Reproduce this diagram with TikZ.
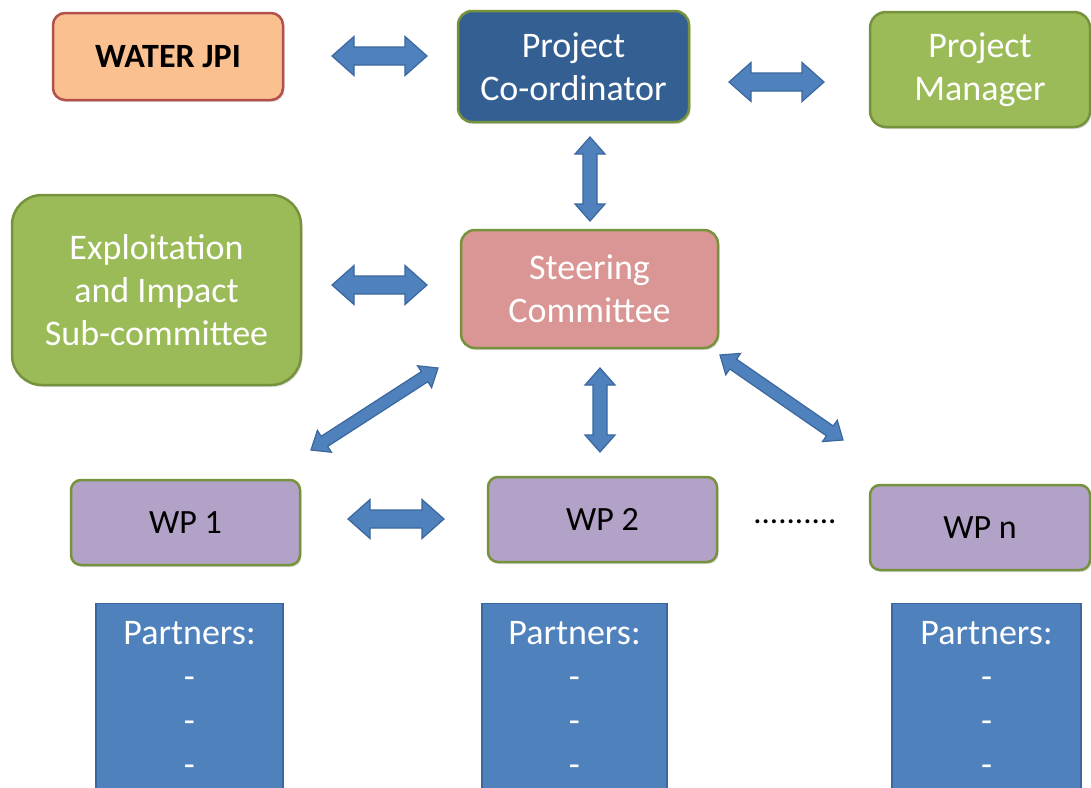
\documentclass[tikz,border=0pt]{standalone}
\usepackage{fontspec}
\setmainfont{Carlito}
\usetikzlibrary{calc,shadows}
\definecolor{jpiFill}{HTML}{FAC090}
\definecolor{jpiLine}{HTML}{B4504B}
\definecolor{coordFill}{HTML}{345F93}
\definecolor{grnFill}{HTML}{9BBB59}
\definecolor{grnLine}{HTML}{76923C}
\definecolor{steerFill}{HTML}{D99694}
\definecolor{wpFill}{HTML}{B3A2C7}
\definecolor{blueFill}{HTML}{4F81BD}
\definecolor{blueLine}{HTML}{3A679E}
\newcommand\bigfnt{\fontsize{36}{43}\selectfont}
\newcommand\wpfnt{\fontsize{34}{40}\selectfont}
\newcommand\jpifnt{\fontsize{34}{40}\selectfont\bfseries}
\newcommand\partfnt{\fontsize{36}{44}\selectfont}
\newcommand\fatarrow[5]{%
  \path let \p1=(#1), \p2=(#2), \n1={atan2(\y2-\y1,\x2-\x1)}, \n2={veclen(\x2-\x1,\y2-\y1)} in
    \pgfextra{\xdef\FAang{\n1}\xdef\FAlen{\n2}\xdef\FAx{\x1}\xdef\FAy{\y1}};
  \begin{scope}[shift={(\FAx,\FAy)}, rotate=\FAang, x=1pt, y=1pt]
    \filldraw[fatarr] (0,0) -- (#5,#3) -- (#5,#4) -- ({\FAlen-#5},#4) -- ({\FAlen-#5},#3) -- (\FAlen,0)
      -- ({\FAlen-#5},-#3) -- ({\FAlen-#5},-#4) -- (#5,-#4) -- (#5,-#3) -- cycle;
  \end{scope}}
\tikzset{
  rbox/.style={rounded corners=#1, line width=2.5pt, align=center, inner sep=0pt,
    font=\bigfnt, text=white, draw=grnLine,
    drop shadow={shadow xshift=1.5pt, shadow yshift=-2pt, opacity=0.25}},
  partbox/.style={rectangle, line width=1.2pt, draw=blueLine, fill=blueFill,
    minimum width=#1, minimum height=200pt, anchor=north, inner sep=0pt},
  parttext/.style={align=center, inner sep=0pt, anchor=north, font=\partfnt, text=white},
  fatarr/.style={fill=blueFill, draw=blueLine, line width=1.2pt, line join=miter}
}
\begin{document}
\begin{tikzpicture}[x=1pt,y=-1pt]
\useasboundingbox (0,0) rectangle (1091,787);
\fill[white] (0,0) rectangle (1091,787);
% boxes
\node[rbox=12pt, fill=jpiFill, draw=jpiLine, text=black, font=\jpifnt,
  minimum width=230pt, minimum height=87pt] (wjpi) at (168,56.5) {WATER JPI};
\node[rbox=14pt, fill=coordFill, minimum width=231pt, minimum height=111pt]
  (coord) at (573.5,66.5) {Project\\Co-ordinator};
\node[rbox=16pt, fill=grnFill, minimum width=220pt, minimum height=115pt]
  (mgr) at (980,69.5) {Project\\Manager};
\node[rbox=30pt, fill=grnFill, minimum width=289pt, minimum height=190pt]
  (expl) at (156.5,290) {Exploitation\\and Impact\\Sub-committee};
\node[rbox=14pt, fill=steerFill, minimum width=257pt, minimum height=118pt]
  (steer) at (589.5,289) {Steering\\Committee};
\node[rbox=10pt, fill=wpFill, text=black, font=\wpfnt, minimum width=229pt, minimum height=85pt]
  (wp1) at (185.5,522.5) {WP 1};
\node[rbox=10pt, fill=wpFill, text=black, font=\wpfnt, minimum width=229pt, minimum height=85pt]
  (wp2) at (602.5,519.5) {WP 2};
\node[rbox=10pt, fill=wpFill, text=black, font=\wpfnt, minimum width=220pt, minimum height=85pt]
  (wpn) at (980,527.5) {WP n};
\node[font=\fontsize{33}{40}\selectfont, inner sep=0pt, anchor=base] (dots) at (795,523) {..........};
% partners
\node[partbox=187pt] (p1) at (189.5,603) {};
\node[partbox=185pt] (p2) at (574.5,603) {};
\node[partbox=189pt] (p3) at (986.5,603) {};
\node[parttext] (p1t) at ($(p1.north)+(0,18)$) {Partners:\\-\\-\\-};
\node[parttext] (p2t) at ($(p2.north)+(0,18)$) {Partners:\\-\\-\\-};
\node[parttext] (p3t) at ($(p3.north)+(0,18)$) {Partners:\\-\\-\\-};
% arrow end points
\coordinate (a1s) at (332,56);  \coordinate (a1e) at (427,56);
\coordinate (a2s) at (729,82);  \coordinate (a2e) at (824,82);
\coordinate (a3s) at (590,137); \coordinate (a3e) at (590,221);
\coordinate (a4s) at (332,285); \coordinate (a4e) at (427,285);
\coordinate (a5s) at (438,368); \coordinate (a5e) at (311,450);
\coordinate (a6s) at (600,368); \coordinate (a6e) at (600,452);
\coordinate (a7s) at (720,355); \coordinate (a7e) at (843,440);
\coordinate (a8s) at (348,519); \coordinate (a8e) at (444,519);
\fatarrow{a1s}{a1e}{19.5}{9}{22}
\fatarrow{a2s}{a2e}{19.5}{9}{22}
\fatarrow{a3s}{a3e}{15}{7}{17}
\fatarrow{a4s}{a4e}{19.5}{9}{22}
\fatarrow{a5s}{a5e}{13}{6}{16}
\fatarrow{a6s}{a6e}{15}{7}{17}
\fatarrow{a7s}{a7e}{13}{6}{16}
\fatarrow{a8s}{a8e}{19.5}{9}{22}
\end{tikzpicture}
\end{document}
